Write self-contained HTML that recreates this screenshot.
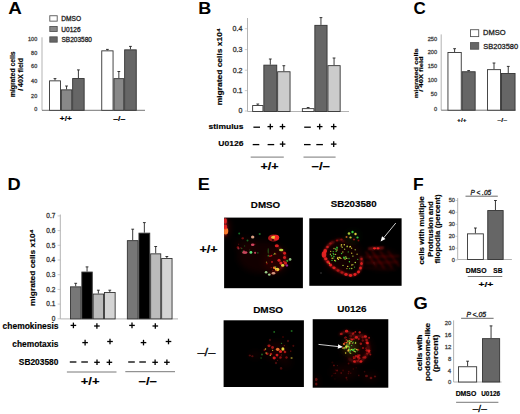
<!DOCTYPE html>
<html><head><meta charset="utf-8"><style>
html,body{margin:0;padding:0;background:#fff;width:520px;height:414px;overflow:hidden}
svg{display:block}
text{font-family:"Liberation Sans", sans-serif}
</style></head><body>
<svg width="520" height="414" viewBox="0 0 520 414">
<rect width="520" height="414" fill="#fff"/>
<text transform="translate(8.13,14.37) scale(1.087,1)" font-size="17.30" font-weight="bold" fill="#000">A</text>
<rect x="49.8" y="15.75" width="7.4" height="5.4" fill="#fff" stroke="#555" stroke-width="0.9"/>
<text transform="translate(61.27,20.57) scale(1.051,1)" font-size="6.30" font-weight="normal" fill="#222" stroke="#222" stroke-width="0.280">DMSO</text>
<rect x="49.8" y="26.45" width="7.4" height="5.0" fill="#888" stroke="#555" stroke-width="0.9"/>
<text transform="translate(61.31,31.52) scale(1.038,1)" font-size="6.30" font-weight="normal" fill="#222" stroke="#222" stroke-width="0.280">U0126</text>
<rect x="49.8" y="36.85" width="7.4" height="5.3" fill="#666" stroke="#555" stroke-width="0.9"/>
<text transform="translate(61.51,42.47) scale(1.034,1)" font-size="6.30" font-weight="normal" fill="#222" stroke="#222" stroke-width="0.280">SB203580</text>
<line x1="42.0" y1="37.3" x2="42.0" y2="110.3" stroke="#aaa" stroke-width="0.9"/>
<line x1="42.0" y1="110.3" x2="145" y2="110.3" stroke="#666" stroke-width="0.9"/>
<text transform="translate(28.05,40.90) scale(1.000,1)" font-size="5.49" font-weight="normal" fill="#444" stroke="#444" stroke-width="0.280">100</text>
<text transform="translate(31.10,54.80) scale(1.000,1)" font-size="5.49" font-weight="normal" fill="#444" stroke="#444" stroke-width="0.280">80</text>
<text transform="translate(31.10,68.40) scale(1.000,1)" font-size="5.49" font-weight="normal" fill="#444" stroke="#444" stroke-width="0.280">60</text>
<text transform="translate(31.10,83.10) scale(1.000,1)" font-size="5.49" font-weight="normal" fill="#444" stroke="#444" stroke-width="0.280">40</text>
<text transform="translate(31.10,97.60) scale(1.000,1)" font-size="5.49" font-weight="normal" fill="#444" stroke="#444" stroke-width="0.280">20</text>
<text transform="translate(34.14,111.30) scale(1.000,1)" font-size="5.49" font-weight="normal" fill="#444" stroke="#444" stroke-width="0.280">0</text>
<line x1="55.0" y1="80.4" x2="55.0" y2="78.6" stroke="#222" stroke-width="0.9"/>
<line x1="53.6" y1="78.6" x2="56.4" y2="78.6" stroke="#222" stroke-width="0.9"/>
<rect x="49.550000000000004" y="80.85000000000001" width="10.9" height="29.45" fill="#fff" stroke="#333" stroke-width="0.9"/>
<line x1="66.55" y1="89.4" x2="66.55" y2="86" stroke="#222" stroke-width="0.9"/>
<line x1="65.14999999999999" y1="86" x2="67.95" y2="86" stroke="#222" stroke-width="0.9"/>
<rect x="61.35" y="89.85000000000001" width="10.4" height="20.45" fill="#888" stroke="#333" stroke-width="0.9"/>
<line x1="78.4" y1="78.1" x2="78.4" y2="69.9" stroke="#222" stroke-width="0.9"/>
<line x1="77.0" y1="69.9" x2="79.80000000000001" y2="69.9" stroke="#222" stroke-width="0.9"/>
<rect x="72.65" y="78.55" width="11.5" height="31.75" fill="#666" stroke="#333" stroke-width="0.9"/>
<line x1="107.4" y1="50.4" x2="107.4" y2="49.4" stroke="#222" stroke-width="0.9"/>
<line x1="106.0" y1="49.4" x2="108.80000000000001" y2="49.4" stroke="#222" stroke-width="0.9"/>
<rect x="101.75" y="50.85" width="11.3" height="59.45" fill="#fff" stroke="#333" stroke-width="0.9"/>
<line x1="118.85" y1="78.2" x2="118.85" y2="71.5" stroke="#222" stroke-width="0.9"/>
<line x1="117.44999999999999" y1="71.5" x2="120.25" y2="71.5" stroke="#222" stroke-width="0.9"/>
<rect x="113.95" y="78.65" width="9.8" height="31.65" fill="#888" stroke="#333" stroke-width="0.9"/>
<line x1="130.45" y1="49.4" x2="130.45" y2="46.4" stroke="#222" stroke-width="0.9"/>
<line x1="129.04999999999998" y1="46.4" x2="131.85" y2="46.4" stroke="#222" stroke-width="0.9"/>
<rect x="124.65" y="49.85" width="11.6" height="60.45" fill="#666" stroke="#333" stroke-width="0.9"/>
<text transform="translate(59.87,121.20) scale(1.207,1)" font-size="6.80" font-weight="bold" fill="#000" stroke="#000" stroke-width="0.150">+/+</text>
<text transform="translate(113.24,121.20) scale(1.272,1)" font-size="6.80" font-weight="bold" fill="#000" stroke="#000" stroke-width="0.150">–/–</text>
<text transform="translate(14.67,97.24) rotate(-90) scale(1.050,1)" font-size="6.50" font-weight="bold" fill="#000" stroke="#000" stroke-width="0.150">migrated cells</text>
<text transform="translate(22.99,90.87) rotate(-90) scale(1.088,1)" font-size="6.50" font-weight="bold" fill="#000" stroke="#000" stroke-width="0.150">/ 40X field</text>
<text transform="translate(198.13,14.17) scale(1.042,1)" font-size="17.30" font-weight="bold" fill="#000">B</text>
<line x1="247.5" y1="18" x2="247.5" y2="111.5" stroke="#aaa" stroke-width="0.9"/>
<line x1="247.5" y1="111.5" x2="349" y2="111.5" stroke="#aaa" stroke-width="0.9"/>
<text transform="translate(232.62,31.13) scale(1.000,1)" font-size="7.04" font-weight="normal" fill="#333" stroke="#333" stroke-width="0.280">0.4</text>
<line x1="244.8" y1="28.7" x2="247.5" y2="28.7" stroke="#aaa" stroke-width="0.6"/>
<text transform="translate(232.69,52.03) scale(1.000,1)" font-size="7.04" font-weight="normal" fill="#333" stroke="#333" stroke-width="0.280">0.3</text>
<line x1="244.8" y1="49.6" x2="247.5" y2="49.6" stroke="#aaa" stroke-width="0.6"/>
<text transform="translate(232.76,72.63) scale(1.000,1)" font-size="7.04" font-weight="normal" fill="#333" stroke="#333" stroke-width="0.280">0.2</text>
<line x1="244.8" y1="70.2" x2="247.5" y2="70.2" stroke="#aaa" stroke-width="0.6"/>
<text transform="translate(232.73,93.03) scale(1.000,1)" font-size="7.04" font-weight="normal" fill="#333" stroke="#333" stroke-width="0.280">0.1</text>
<line x1="244.8" y1="90.6" x2="247.5" y2="90.6" stroke="#aaa" stroke-width="0.6"/>
<text transform="translate(238.54,113.43) scale(1.000,1)" font-size="7.04" font-weight="normal" fill="#333" stroke="#333" stroke-width="0.280">0</text>
<line x1="244.8" y1="111" x2="247.5" y2="111" stroke="#aaa" stroke-width="0.6"/>
<line x1="257.79999999999995" y1="105.1" x2="257.79999999999995" y2="104" stroke="#222" stroke-width="0.9"/>
<line x1="256.4" y1="104" x2="259.19999999999993" y2="104" stroke="#222" stroke-width="0.9"/>
<rect x="252.64999999999998" y="105.55" width="10.3" height="5.95" fill="#fff" stroke="#333" stroke-width="0.9"/>
<line x1="270.29999999999995" y1="64.7" x2="270.29999999999995" y2="59" stroke="#222" stroke-width="0.9"/>
<line x1="268.9" y1="59" x2="271.69999999999993" y2="59" stroke="#222" stroke-width="0.9"/>
<rect x="263.84999999999997" y="65.15" width="12.9" height="46.35" fill="#666" stroke="#333" stroke-width="0.9"/>
<line x1="283.85" y1="71.3" x2="283.85" y2="65.7" stroke="#222" stroke-width="0.9"/>
<line x1="282.45000000000005" y1="65.7" x2="285.25" y2="65.7" stroke="#222" stroke-width="0.9"/>
<rect x="277.65" y="71.75" width="12.4" height="39.75" fill="#ccc" stroke="#333" stroke-width="0.9"/>
<line x1="308.15" y1="108.2" x2="308.15" y2="107.5" stroke="#222" stroke-width="0.9"/>
<line x1="306.75" y1="107.5" x2="309.54999999999995" y2="107.5" stroke="#222" stroke-width="0.9"/>
<rect x="302.34999999999997" y="108.65" width="11.6" height="2.85" fill="#fff" stroke="#333" stroke-width="0.9"/>
<line x1="320.95" y1="24.9" x2="320.95" y2="17.6" stroke="#222" stroke-width="0.9"/>
<line x1="319.55" y1="17.6" x2="322.34999999999997" y2="17.6" stroke="#222" stroke-width="0.9"/>
<rect x="314.84999999999997" y="25.349999999999998" width="12.2" height="86.15" fill="#666" stroke="#333" stroke-width="0.9"/>
<line x1="334.05" y1="65.2" x2="334.05" y2="58" stroke="#222" stroke-width="0.9"/>
<line x1="332.65000000000003" y1="58" x2="335.45" y2="58" stroke="#222" stroke-width="0.9"/>
<rect x="327.95" y="65.65" width="12.2" height="45.85" fill="#ccc" stroke="#333" stroke-width="0.9"/>
<text transform="translate(222.26,105.35) rotate(-90) scale(1.057,1)" font-size="8.00" font-weight="bold" fill="#000" stroke="#000" stroke-width="0.150">migrated cells x10⁴</text>
<text transform="translate(208.60,129.26) scale(1.059,1)" font-size="8.00" font-weight="bold" fill="#000" stroke="#000" stroke-width="0.150">stimulus</text>
<text transform="translate(218.29,146.26) scale(1.066,1)" font-size="8.00" font-weight="bold" fill="#000" stroke="#000" stroke-width="0.150">U0126</text>
<line x1="253.39999999999998" y1="127.2" x2="260.0" y2="127.2" stroke="#000" stroke-width="1.3"/>
<line x1="304.2" y1="127.2" x2="310.8" y2="127.2" stroke="#000" stroke-width="1.3"/>
<line x1="267.5" y1="126.6" x2="273.1" y2="126.6" stroke="#000" stroke-width="1.3"/>
<line x1="270.3" y1="123.8" x2="270.3" y2="129.4" stroke="#000" stroke-width="1.3"/>
<line x1="279.7" y1="126.6" x2="285.3" y2="126.6" stroke="#000" stroke-width="1.3"/>
<line x1="282.5" y1="123.8" x2="282.5" y2="129.4" stroke="#000" stroke-width="1.3"/>
<line x1="316.9" y1="126.6" x2="322.5" y2="126.6" stroke="#000" stroke-width="1.3"/>
<line x1="319.7" y1="123.8" x2="319.7" y2="129.4" stroke="#000" stroke-width="1.3"/>
<line x1="330.9" y1="126.6" x2="336.5" y2="126.6" stroke="#000" stroke-width="1.3"/>
<line x1="333.7" y1="123.8" x2="333.7" y2="129.4" stroke="#000" stroke-width="1.3"/>
<line x1="252.7" y1="144.6" x2="259.3" y2="144.6" stroke="#000" stroke-width="1.3"/>
<line x1="267.59999999999997" y1="144.6" x2="274.2" y2="144.6" stroke="#000" stroke-width="1.3"/>
<line x1="304.0" y1="144.6" x2="310.6" y2="144.6" stroke="#000" stroke-width="1.3"/>
<line x1="316.3" y1="144.6" x2="322.90000000000003" y2="144.6" stroke="#000" stroke-width="1.3"/>
<line x1="279.8" y1="144.1" x2="285.40000000000003" y2="144.1" stroke="#000" stroke-width="1.3"/>
<line x1="282.6" y1="141.29999999999998" x2="282.6" y2="146.9" stroke="#000" stroke-width="1.3"/>
<line x1="330.9" y1="144.1" x2="336.5" y2="144.1" stroke="#000" stroke-width="1.3"/>
<line x1="333.7" y1="141.29999999999998" x2="333.7" y2="146.9" stroke="#000" stroke-width="1.3"/>
<line x1="250.7" y1="157.1" x2="283.8" y2="157.1" stroke="#555" stroke-width="0.8"/>
<line x1="303.5" y1="157.1" x2="335.6" y2="157.1" stroke="#555" stroke-width="0.8"/>
<text transform="translate(260.40,169.93) scale(1.115,1)" font-size="11.30" font-weight="bold" fill="#000" stroke="#000" stroke-width="0.150">+/+</text>
<text transform="translate(311.50,169.93) scale(1.178,1)" font-size="11.30" font-weight="bold" fill="#000" stroke="#000" stroke-width="0.150">–/–</text>
<text transform="translate(413.52,13.92) scale(0.980,1)" font-size="17.30" font-weight="bold" fill="#000">C</text>
<rect x="470.5" y="29.7" width="8.2" height="6.9" fill="#fff" stroke="#555" stroke-width="0.9"/>
<rect x="470.5" y="42.6" width="8.2" height="6.6" fill="#666" stroke="#555" stroke-width="0.9"/>
<text transform="translate(483.10,35.12) scale(1.075,1)" font-size="7.00" font-weight="normal" fill="#222" stroke="#222" stroke-width="0.280">DMSO</text>
<text transform="translate(483.36,48.96) scale(1.064,1)" font-size="7.00" font-weight="normal" fill="#222" stroke="#222" stroke-width="0.280">SB203580</text>
<line x1="441.2" y1="34.4" x2="441.2" y2="110.2" stroke="#aaa" stroke-width="0.9"/>
<line x1="441.2" y1="110.2" x2="515.5" y2="110.2" stroke="#666" stroke-width="0.9"/>
<text transform="translate(427.72,40.74) scale(1.000,1)" font-size="5.63" font-weight="normal" fill="#444" stroke="#444" stroke-width="0.280">250</text>
<text transform="translate(427.72,53.84) scale(1.000,1)" font-size="5.63" font-weight="normal" fill="#444" stroke="#444" stroke-width="0.280">200</text>
<text transform="translate(427.72,67.84) scale(1.000,1)" font-size="5.63" font-weight="normal" fill="#444" stroke="#444" stroke-width="0.280">150</text>
<text transform="translate(427.72,82.14) scale(1.000,1)" font-size="5.63" font-weight="normal" fill="#444" stroke="#444" stroke-width="0.280">100</text>
<text transform="translate(430.84,96.14) scale(1.000,1)" font-size="5.63" font-weight="normal" fill="#444" stroke="#444" stroke-width="0.280">50</text>
<text transform="translate(433.97,111.14) scale(1.000,1)" font-size="5.63" font-weight="normal" fill="#444" stroke="#444" stroke-width="0.280">0</text>
<line x1="454.6" y1="52" x2="454.6" y2="48.7" stroke="#222" stroke-width="0.9"/>
<line x1="453.20000000000005" y1="48.7" x2="456.0" y2="48.7" stroke="#222" stroke-width="0.9"/>
<rect x="447.95" y="52.45" width="13.3" height="57.75" fill="#fff" stroke="#333" stroke-width="0.9"/>
<line x1="468.65" y1="71.3" x2="468.65" y2="70.6" stroke="#222" stroke-width="0.9"/>
<line x1="467.25" y1="70.6" x2="470.04999999999995" y2="70.6" stroke="#222" stroke-width="0.9"/>
<rect x="462.15" y="71.75" width="13.0" height="38.45" fill="#666" stroke="#333" stroke-width="0.9"/>
<line x1="494.0" y1="69.2" x2="494.0" y2="63" stroke="#222" stroke-width="0.9"/>
<line x1="492.6" y1="63" x2="495.4" y2="63" stroke="#222" stroke-width="0.9"/>
<rect x="487.45" y="69.65" width="13.1" height="40.55" fill="#fff" stroke="#333" stroke-width="0.9"/>
<line x1="508.25" y1="73" x2="508.25" y2="66.4" stroke="#222" stroke-width="0.9"/>
<line x1="506.85" y1="66.4" x2="509.65" y2="66.4" stroke="#222" stroke-width="0.9"/>
<rect x="501.45" y="73.45" width="13.6" height="36.75" fill="#666" stroke="#333" stroke-width="0.9"/>
<text transform="translate(457.04,121.52) scale(1.099,1)" font-size="6.00" font-weight="bold" fill="#000" stroke="#000" stroke-width="0.150">+/+</text>
<text transform="translate(497.29,121.52) scale(1.178,1)" font-size="6.00" font-weight="bold" fill="#000" stroke="#000" stroke-width="0.150">–/–</text>
<text transform="translate(417.79,98.28) rotate(-90) scale(1.330,1)" font-size="5.60" font-weight="bold" fill="#000" stroke="#000" stroke-width="0.150">migrated cells</text>
<text transform="translate(423.32,91.68) rotate(-90) scale(1.356,1)" font-size="5.60" font-weight="bold" fill="#000" stroke="#000" stroke-width="0.150">/ 40X field</text>
<text transform="translate(7.52,190.32) scale(1.053,1)" font-size="17.30" font-weight="bold" fill="#000">D</text>
<line x1="60.3" y1="214.5" x2="60.3" y2="318.9" stroke="#aaa" stroke-width="0.9"/>
<line x1="60.3" y1="318.9" x2="178" y2="318.9" stroke="#aaa" stroke-width="0.9"/>
<text transform="translate(46.32,218.14) scale(1.000,1)" font-size="6.48" font-weight="normal" fill="#333" stroke="#333" stroke-width="0.280">0.7</text>
<line x1="57.6" y1="215.9" x2="60.3" y2="215.9" stroke="#aaa" stroke-width="0.6"/>
<text transform="translate(46.25,232.84) scale(1.000,1)" font-size="6.48" font-weight="normal" fill="#333" stroke="#333" stroke-width="0.280">0.6</text>
<line x1="57.6" y1="230.6" x2="60.3" y2="230.6" stroke="#aaa" stroke-width="0.6"/>
<text transform="translate(46.25,247.54) scale(1.000,1)" font-size="6.48" font-weight="normal" fill="#333" stroke="#333" stroke-width="0.280">0.5</text>
<line x1="57.6" y1="245.3" x2="60.3" y2="245.3" stroke="#aaa" stroke-width="0.6"/>
<text transform="translate(46.19,262.24) scale(1.000,1)" font-size="6.48" font-weight="normal" fill="#333" stroke="#333" stroke-width="0.280">0.4</text>
<line x1="57.6" y1="260.0" x2="60.3" y2="260.0" stroke="#aaa" stroke-width="0.6"/>
<text transform="translate(46.25,276.94) scale(1.000,1)" font-size="6.48" font-weight="normal" fill="#333" stroke="#333" stroke-width="0.280">0.3</text>
<line x1="57.6" y1="274.7" x2="60.3" y2="274.7" stroke="#aaa" stroke-width="0.6"/>
<text transform="translate(46.32,291.64) scale(1.000,1)" font-size="6.48" font-weight="normal" fill="#333" stroke="#333" stroke-width="0.280">0.2</text>
<line x1="57.6" y1="289.4" x2="60.3" y2="289.4" stroke="#aaa" stroke-width="0.6"/>
<text transform="translate(46.29,306.34) scale(1.000,1)" font-size="6.48" font-weight="normal" fill="#333" stroke="#333" stroke-width="0.280">0.1</text>
<line x1="57.6" y1="304.1" x2="60.3" y2="304.1" stroke="#aaa" stroke-width="0.6"/>
<text transform="translate(51.63,321.04) scale(1.000,1)" font-size="6.48" font-weight="normal" fill="#333" stroke="#333" stroke-width="0.280">0</text>
<line x1="57.6" y1="318.8" x2="60.3" y2="318.8" stroke="#aaa" stroke-width="0.6"/>
<line x1="75.7" y1="286.4" x2="75.7" y2="283.3" stroke="#222" stroke-width="0.9"/>
<line x1="74.3" y1="283.3" x2="77.10000000000001" y2="283.3" stroke="#222" stroke-width="0.9"/>
<rect x="70.45" y="286.84999999999997" width="10.5" height="32.05" fill="#777" stroke="#333" stroke-width="0.9"/>
<line x1="87.05000000000001" y1="271.6" x2="87.05000000000001" y2="266.9" stroke="#222" stroke-width="0.9"/>
<line x1="85.65" y1="266.9" x2="88.45000000000002" y2="266.9" stroke="#222" stroke-width="0.9"/>
<rect x="81.85000000000001" y="272.05" width="10.4" height="46.85" fill="#000" stroke="#333" stroke-width="0.9"/>
<line x1="98.35" y1="293.6" x2="98.35" y2="290.2" stroke="#222" stroke-width="0.9"/>
<line x1="96.94999999999999" y1="290.2" x2="99.75" y2="290.2" stroke="#222" stroke-width="0.9"/>
<rect x="93.15" y="294.05" width="10.4" height="24.85" fill="#bbb" stroke="#333" stroke-width="0.9"/>
<line x1="109.8" y1="292" x2="109.8" y2="290.2" stroke="#222" stroke-width="0.9"/>
<line x1="108.39999999999999" y1="290.2" x2="111.2" y2="290.2" stroke="#222" stroke-width="0.9"/>
<rect x="104.45" y="292.45" width="10.7" height="26.45" fill="#d4d4d4" stroke="#333" stroke-width="0.9"/>
<line x1="132.7" y1="240.2" x2="132.7" y2="229.2" stroke="#222" stroke-width="0.9"/>
<line x1="131.29999999999998" y1="229.2" x2="134.1" y2="229.2" stroke="#222" stroke-width="0.9"/>
<rect x="127.35000000000001" y="240.64999999999998" width="10.7" height="78.25" fill="#777" stroke="#333" stroke-width="0.9"/>
<line x1="144.35" y1="232.7" x2="144.35" y2="222.6" stroke="#222" stroke-width="0.9"/>
<line x1="142.95" y1="222.6" x2="145.75" y2="222.6" stroke="#222" stroke-width="0.9"/>
<rect x="138.95" y="233.14999999999998" width="10.8" height="85.75" fill="#000" stroke="#333" stroke-width="0.9"/>
<line x1="155.7" y1="253.4" x2="155.7" y2="246.5" stroke="#222" stroke-width="0.9"/>
<line x1="154.29999999999998" y1="246.5" x2="157.1" y2="246.5" stroke="#222" stroke-width="0.9"/>
<rect x="150.64999999999998" y="253.85" width="10.1" height="65.05" fill="#bbb" stroke="#333" stroke-width="0.9"/>
<line x1="166.85" y1="258.1" x2="166.85" y2="256.5" stroke="#222" stroke-width="0.9"/>
<line x1="165.45" y1="256.5" x2="168.25" y2="256.5" stroke="#222" stroke-width="0.9"/>
<rect x="161.64999999999998" y="258.55" width="10.4" height="60.35" fill="#d4d4d4" stroke="#333" stroke-width="0.9"/>
<text transform="translate(35.31,305.94) rotate(-90) scale(1.101,1)" font-size="7.60" font-weight="bold" fill="#000" stroke="#000" stroke-width="0.150">migrated cells x10⁴</text>
<text transform="translate(2.56,329.12) scale(1.021,1)" font-size="8.30" font-weight="bold" fill="#000" stroke="#000" stroke-width="0.150">chemokinesis</text>
<text transform="translate(12.36,346.67) scale(1.009,1)" font-size="8.30" font-weight="bold" fill="#000" stroke="#000" stroke-width="0.150">chemotaxis</text>
<text transform="translate(18.85,364.96) scale(1.009,1)" font-size="8.30" font-weight="bold" fill="#000" stroke="#000" stroke-width="0.150">SB203580</text>
<line x1="70.60000000000001" y1="325.4" x2="76.2" y2="325.4" stroke="#000" stroke-width="1.3"/>
<line x1="73.4" y1="322.59999999999997" x2="73.4" y2="328.2" stroke="#000" stroke-width="1.3"/>
<line x1="94.10000000000001" y1="326" x2="99.7" y2="326" stroke="#000" stroke-width="1.3"/>
<line x1="96.9" y1="323.2" x2="96.9" y2="328.8" stroke="#000" stroke-width="1.3"/>
<line x1="129.2" y1="325.4" x2="134.8" y2="325.4" stroke="#000" stroke-width="1.3"/>
<line x1="132" y1="322.59999999999997" x2="132" y2="328.2" stroke="#000" stroke-width="1.3"/>
<line x1="152.5" y1="326" x2="158.10000000000002" y2="326" stroke="#000" stroke-width="1.3"/>
<line x1="155.3" y1="323.2" x2="155.3" y2="328.8" stroke="#000" stroke-width="1.3"/>
<line x1="82.3" y1="342.6" x2="87.89999999999999" y2="342.6" stroke="#000" stroke-width="1.3"/>
<line x1="85.1" y1="339.8" x2="85.1" y2="345.40000000000003" stroke="#000" stroke-width="1.3"/>
<line x1="107.2" y1="341.5" x2="112.8" y2="341.5" stroke="#000" stroke-width="1.3"/>
<line x1="110" y1="338.7" x2="110" y2="344.3" stroke="#000" stroke-width="1.3"/>
<line x1="140.7" y1="342.6" x2="146.3" y2="342.6" stroke="#000" stroke-width="1.3"/>
<line x1="143.5" y1="339.8" x2="143.5" y2="345.40000000000003" stroke="#000" stroke-width="1.3"/>
<line x1="165.7" y1="341.5" x2="171.3" y2="341.5" stroke="#000" stroke-width="1.3"/>
<line x1="168.5" y1="338.7" x2="168.5" y2="344.3" stroke="#000" stroke-width="1.3"/>
<line x1="69.8" y1="362" x2="76.39999999999999" y2="362" stroke="#000" stroke-width="1.3"/>
<line x1="81.3" y1="362" x2="87.89999999999999" y2="362" stroke="#000" stroke-width="1.3"/>
<line x1="128.2" y1="362" x2="134.8" y2="362" stroke="#000" stroke-width="1.3"/>
<line x1="139.29999999999998" y1="362" x2="145.9" y2="362" stroke="#000" stroke-width="1.3"/>
<line x1="94.2" y1="362.3" x2="99.8" y2="362.3" stroke="#000" stroke-width="1.3"/>
<line x1="97" y1="359.5" x2="97" y2="365.1" stroke="#000" stroke-width="1.3"/>
<line x1="106.60000000000001" y1="362.3" x2="112.2" y2="362.3" stroke="#000" stroke-width="1.3"/>
<line x1="109.4" y1="359.5" x2="109.4" y2="365.1" stroke="#000" stroke-width="1.3"/>
<line x1="152.29999999999998" y1="362.3" x2="157.9" y2="362.3" stroke="#000" stroke-width="1.3"/>
<line x1="155.1" y1="359.5" x2="155.1" y2="365.1" stroke="#000" stroke-width="1.3"/>
<line x1="164.1" y1="362.3" x2="169.70000000000002" y2="362.3" stroke="#000" stroke-width="1.3"/>
<line x1="166.9" y1="359.5" x2="166.9" y2="365.1" stroke="#000" stroke-width="1.3"/>
<line x1="66.9" y1="372" x2="116.5" y2="372" stroke="#555" stroke-width="0.8"/>
<line x1="125.3" y1="371.7" x2="175" y2="371.7" stroke="#555" stroke-width="0.8"/>
<text transform="translate(80.68,385.28) scale(1.154,1)" font-size="11.30" font-weight="bold" fill="#000" stroke="#000" stroke-width="0.150">+/+</text>
<text transform="translate(138.61,385.28) scale(1.164,1)" font-size="11.30" font-weight="bold" fill="#000" stroke="#000" stroke-width="0.150">–/–</text>
<text transform="translate(197.73,190.47) scale(1.044,1)" font-size="17.30" font-weight="bold" fill="#000">E</text>
<text transform="translate(250.86,208.48) scale(1.031,1)" font-size="9.50" font-weight="bold" fill="#000" stroke="#000" stroke-width="0.150">DMSO</text>
<text transform="translate(330.71,206.73) scale(1.024,1)" font-size="9.50" font-weight="bold" fill="#000" stroke="#000" stroke-width="0.150">SB203580</text>
<text transform="translate(253.15,312.73) scale(1.053,1)" font-size="9.50" font-weight="bold" fill="#000" stroke="#000" stroke-width="0.150">DMSO</text>
<text transform="translate(337.20,311.63) scale(1.049,1)" font-size="9.50" font-weight="bold" fill="#000" stroke="#000" stroke-width="0.150">U0126</text>
<text transform="translate(199.39,253.43) scale(1.128,1)" font-size="11.30" font-weight="bold" fill="#000" stroke="#000" stroke-width="0.150">+/+</text>
<text transform="translate(197.40,356.31) scale(1.192,1)" font-size="10.80" font-weight="normal" fill="#000" stroke="#000" stroke-width="0.280">–/–</text>
<rect x="224.1" y="217.6" width="78.8" height="70.6" fill="#000"/>
<rect x="309.3" y="218.3" width="92.3" height="67.5" fill="#000"/>
<rect x="223.6" y="320.3" width="80.3" height="66.7" fill="#000"/>
<rect x="312.7" y="319.2" width="75.6" height="68.5" fill="#000"/>
<defs>
<filter id="bh" x="-20%" y="-20%" width="140%" height="140%"><feGaussianBlur stdDeviation="3"/></filter>
<filter id="bs" x="-20%" y="-20%" width="140%" height="140%"><feGaussianBlur stdDeviation="1.0"/></filter>
<filter id="bd" x="-20%" y="-20%" width="140%" height="140%"><feGaussianBlur stdDeviation="0.45"/></filter>
<clipPath id="c0"><rect x="224.1" y="217.6" width="78.80" height="70.60"/></clipPath>
<clipPath id="c1"><rect x="309.3" y="218.3" width="92.30" height="67.50"/></clipPath>
<clipPath id="c2"><rect x="223.6" y="320.3" width="80.30" height="66.70"/></clipPath>
<clipPath id="c3"><rect x="312.7" y="319.2" width="75.60" height="68.50"/></clipPath>
</defs>
<g clip-path="url(#c0)">
<g filter="url(#bh)">
<ellipse cx="262" cy="257" rx="24" ry="16" fill="#701010" fill-opacity="0.16"/>
<ellipse cx="276" cy="262" rx="12" ry="12" fill="#c01818" fill-opacity="0.11"/>
<ellipse cx="245" cy="245" rx="10" ry="7" fill="#701010" fill-opacity="0.14"/>
<ellipse cx="226" cy="228" rx="3" ry="9" fill="#ee2222" fill-opacity="0.23"/>
</g><g filter="url(#bs)" fill="none" stroke-linecap="round" stroke-linejoin="round">
<polyline points="225.2,218.5 225.5,224.0 225.8,230.0 225.4,235.5" stroke="#ee2222" stroke-width="2.21" stroke-opacity="0.55"/>
<polyline points="225.0,219.0 225.3,223.0" stroke="#f05070" stroke-width="2.04" stroke-opacity="0.52"/>
<polyline points="276.8,245.5 280.5,249.5 284.3,253.0 285.5,257.5 285.0,262.0 283.0,266.0 279.0,269.5 274.5,272.3 270.0,273.8" stroke="#c01818" stroke-width="1.70" stroke-opacity="0.52"/>
</g><g filter="url(#bd)">
<ellipse cx="225.6" cy="231.0" rx="2.64" ry="3.60" fill="#ff8030" fill-opacity="0.95"/>
<ellipse cx="225.3" cy="227.0" rx="1.92" ry="2.40" fill="#ee2222" fill-opacity="0.90"/>
<ellipse cx="225.2" cy="221.0" rx="1.80" ry="2.64" fill="#ee2222" fill-opacity="0.80"/>
<ellipse cx="273.5" cy="238.0" rx="5.52" ry="3.60" fill="#ee2222" fill-opacity="0.70"/>
<ellipse cx="276.0" cy="237.5" rx="3.12" ry="2.64" fill="#ee2222" fill-opacity="0.95"/>
<ellipse cx="252.7" cy="237.0" rx="1.68" ry="1.56" fill="#f0b090" fill-opacity="0.90"/>
<ellipse cx="252.7" cy="244.8" rx="1.80" ry="1.20" fill="#f05070" fill-opacity="0.85"/>
<ellipse cx="239.2" cy="233.5" rx="0.96" ry="0.96" fill="#208a30" fill-opacity="0.80"/>
<ellipse cx="259.7" cy="234.0" rx="1.08" ry="1.08" fill="#208a30" fill-opacity="0.80"/>
<ellipse cx="247.5" cy="240.5" rx="0.96" ry="0.96" fill="#208a30" fill-opacity="0.80"/>
<ellipse cx="242.7" cy="238.3" rx="1.32" ry="1.08" fill="#c01818" fill-opacity="0.60"/>
<ellipse cx="237.9" cy="247.4" rx="1.32" ry="1.08" fill="#c01818" fill-opacity="0.60"/>
<ellipse cx="273.3" cy="237.2" rx="2.16" ry="1.56" fill="#f0e040" fill-opacity="0.85"/>
<ellipse cx="277.0" cy="237.6" rx="2.16" ry="2.16" fill="#ee2222" fill-opacity="1.00"/>
<ellipse cx="272.8" cy="240.0" rx="1.20" ry="0.96" fill="#000" fill-opacity="0.70"/>
<ellipse cx="276.8" cy="245.8" rx="2.04" ry="1.56" fill="#ee2222" fill-opacity="0.90"/>
<ellipse cx="281.2" cy="250.0" rx="2.16" ry="1.20" fill="#b8e040" fill-opacity="0.95"/>
<ellipse cx="284.6" cy="253.2" rx="1.44" ry="1.44" fill="#ee2222" fill-opacity="0.85"/>
<ellipse cx="279.0" cy="260.3" rx="1.56" ry="1.56" fill="#ee2222" fill-opacity="0.85"/>
<ellipse cx="284.5" cy="257.5" rx="1.56" ry="1.56" fill="#ee2222" fill-opacity="0.80"/>
<ellipse cx="280.9" cy="263.1" rx="1.56" ry="1.56" fill="#ee2222" fill-opacity="0.90"/>
<ellipse cx="285.5" cy="263.1" rx="1.56" ry="1.56" fill="#ee2222" fill-opacity="0.85"/>
<ellipse cx="282.7" cy="265.4" rx="1.68" ry="1.44" fill="#f0e040" fill-opacity="0.95"/>
<ellipse cx="286.9" cy="265.4" rx="1.20" ry="1.20" fill="#c030b0" fill-opacity="0.80"/>
<ellipse cx="277.2" cy="269.5" rx="2.16" ry="1.80" fill="#f0e040" fill-opacity="0.95"/>
<ellipse cx="274.4" cy="267.7" rx="1.56" ry="1.32" fill="#ff8030" fill-opacity="0.90"/>
<ellipse cx="273.5" cy="273.2" rx="1.80" ry="1.32" fill="#f0b090" fill-opacity="0.85"/>
<ellipse cx="266.1" cy="272.3" rx="1.32" ry="1.20" fill="#b0f0a0" fill-opacity="0.85"/>
<ellipse cx="269.3" cy="274.6" rx="1.32" ry="1.20" fill="#b0f0a0" fill-opacity="0.85"/>
<ellipse cx="290.1" cy="259.4" rx="1.32" ry="1.32" fill="#b0f0a0" fill-opacity="0.80"/>
<ellipse cx="287.3" cy="260.8" rx="1.08" ry="1.08" fill="#40e040" fill-opacity="0.70"/>
<ellipse cx="244.8" cy="252.6" rx="2.76" ry="1.32" fill="#f05070" fill-opacity="0.85"/>
<ellipse cx="250.9" cy="252.4" rx="1.44" ry="1.44" fill="#60f080" fill-opacity="0.95"/>
<ellipse cx="255.1" cy="252.8" rx="1.08" ry="1.08" fill="#f05070" fill-opacity="0.80"/>
<ellipse cx="238.5" cy="248.5" rx="1.08" ry="1.08" fill="#f05070" fill-opacity="0.50"/>
<ellipse cx="268.4" cy="255.7" rx="0.84" ry="0.84" fill="#40e040" fill-opacity="0.50"/>
<ellipse cx="268.2" cy="251.0" rx="0.60" ry="3.00" fill="#40e040" fill-opacity="0.40"/>
<ellipse cx="271.5" cy="255.7" rx="0.83" ry="0.83" fill="#ee2222" fill-opacity="0.83"/>
<ellipse cx="266.9" cy="263.5" rx="0.93" ry="0.93" fill="#c01818" fill-opacity="0.51"/>
<ellipse cx="273.7" cy="254.3" rx="0.63" ry="0.63" fill="#40e040" fill-opacity="0.52"/>
<ellipse cx="276.3" cy="270.1" rx="0.83" ry="0.83" fill="#ee2222" fill-opacity="0.73"/>
<ellipse cx="272.9" cy="270.6" rx="0.62" ry="0.62" fill="#c01818" fill-opacity="0.62"/>
<ellipse cx="271.2" cy="267.7" rx="0.67" ry="0.67" fill="#c01818" fill-opacity="0.65"/>
<ellipse cx="276.0" cy="254.1" rx="0.62" ry="0.62" fill="#c01818" fill-opacity="0.70"/>
<ellipse cx="275.6" cy="267.0" rx="0.77" ry="0.77" fill="#40e040" fill-opacity="0.64"/>
<ellipse cx="270.0" cy="256.2" rx="0.88" ry="0.88" fill="#ee2222" fill-opacity="0.73"/>
<ellipse cx="275.5" cy="268.8" rx="0.86" ry="0.86" fill="#f0e040" fill-opacity="0.74"/>
<ellipse cx="266.5" cy="262.2" rx="0.66" ry="0.66" fill="#f0e040" fill-opacity="0.56"/>
<ellipse cx="274.8" cy="253.7" rx="0.84" ry="0.84" fill="#f0e040" fill-opacity="0.64"/>
<ellipse cx="272.0" cy="261.9" rx="0.89" ry="0.89" fill="#ee2222" fill-opacity="0.84"/>
<ellipse cx="283.9" cy="261.5" rx="0.84" ry="0.84" fill="#ee2222" fill-opacity="0.79"/>
<ellipse cx="242.4" cy="251.4" rx="0.85" ry="0.85" fill="#208a30" fill-opacity="0.39"/>
<ellipse cx="244.3" cy="253.0" rx="0.61" ry="0.61" fill="#208a30" fill-opacity="0.41"/>
<ellipse cx="249.7" cy="249.9" rx="0.68" ry="0.68" fill="#208a30" fill-opacity="0.34"/>
<ellipse cx="240.9" cy="248.0" rx="0.91" ry="0.91" fill="#c01818" fill-opacity="0.35"/>
<ellipse cx="244.6" cy="246.0" rx="0.65" ry="0.65" fill="#208a30" fill-opacity="0.56"/>
<ellipse cx="241.7" cy="248.5" rx="0.73" ry="0.73" fill="#208a30" fill-opacity="0.59"/>
<ellipse cx="238.6" cy="244.2" rx="0.68" ry="0.68" fill="#c01818" fill-opacity="0.30"/>
<ellipse cx="254.9" cy="244.3" rx="0.70" ry="0.70" fill="#c01818" fill-opacity="0.43"/>
<ellipse cx="243.9" cy="251.2" rx="0.94" ry="0.94" fill="#f05070" fill-opacity="0.56"/>
<ellipse cx="257.8" cy="252.8" rx="0.87" ry="0.87" fill="#208a30" fill-opacity="0.57"/>
</g></g>
<g clip-path="url(#c1)">
<g filter="url(#bh)">
<ellipse cx="343" cy="257" rx="19" ry="18" fill="#701010" fill-opacity="0.16"/>
<ellipse cx="382" cy="260" rx="17" ry="10" fill="#701010" fill-opacity="0.16"/>
<ellipse cx="353" cy="236" rx="7" ry="5" fill="#208a30" fill-opacity="0.11"/>
</g><g filter="url(#bs)" fill="none" stroke-linecap="round" stroke-linejoin="round">
<polyline points="333.0,242.0 330.0,244.0 327.5,246.5 325.0,250.5 324.0,254.5 325.0,258.8 327.8,262.5 331.2,266.0 335.5,269.0 340.5,271.8 345.5,274.0 350.5,275.3 355.5,274.5 359.2,271.5 361.2,267.0 361.8,262.0 361.2,257.5" stroke="#ee2222" stroke-width="2.21" stroke-opacity="0.59"/>
<polyline points="336.0,240.5 340.0,239.5 344.0,241.5" stroke="#c01818" stroke-width="1.53" stroke-opacity="0.52"/>
<polyline points="369.0,248.8 373.0,248.3 378.0,248.2 383.0,247.8" stroke="#ee2222" stroke-width="1.87" stroke-opacity="0.62"/>
<polyline points="366.0,252.0 376.0,266.0" stroke="#c01818" stroke-width="1.19" stroke-opacity="0.49"/>
<polyline points="372.0,251.0 384.0,268.0" stroke="#c01818" stroke-width="1.19" stroke-opacity="0.49"/>
<polyline points="380.0,251.0 392.0,268.0" stroke="#c01818" stroke-width="1.10" stroke-opacity="0.42"/>
<polyline points="388.0,251.0 399.0,266.0" stroke="#c01818" stroke-width="1.10" stroke-opacity="0.39"/>
<polyline points="365.0,257.0 399.0,256.0" stroke="#c01818" stroke-width="1.02" stroke-opacity="0.39"/>
<polyline points="366.0,263.0 398.0,262.0" stroke="#c01818" stroke-width="1.02" stroke-opacity="0.36"/>
<polyline points="364.0,268.0 396.0,270.0" stroke="#701010" stroke-width="0.85" stroke-opacity="0.33"/>
</g><g filter="url(#bd)">
<ellipse cx="324.0" cy="254.5" rx="2.30" ry="3.20" fill="#ee2222" fill-opacity="0.90"/>
<ellipse cx="330.4" cy="243.5" rx="1.20" ry="1.00" fill="#c01818" fill-opacity="0.60"/>
<ellipse cx="327.5" cy="247.0" rx="1.30" ry="1.30" fill="#ee2222" fill-opacity="0.75"/>
<ellipse cx="325.2" cy="251.0" rx="1.90" ry="1.90" fill="#ee2222" fill-opacity="0.95"/>
<ellipse cx="325.8" cy="258.8" rx="1.70" ry="1.50" fill="#ee2222" fill-opacity="0.90"/>
<ellipse cx="328.0" cy="262.0" rx="1.60" ry="1.40" fill="#ee2222" fill-opacity="0.90"/>
<ellipse cx="330.5" cy="265.0" rx="1.60" ry="1.40" fill="#ee2222" fill-opacity="0.90"/>
<ellipse cx="334.0" cy="267.8" rx="1.60" ry="1.40" fill="#ee2222" fill-opacity="0.85"/>
<ellipse cx="338.0" cy="270.5" rx="1.50" ry="1.30" fill="#c01818" fill-opacity="0.80"/>
<ellipse cx="342.0" cy="272.5" rx="1.50" ry="1.30" fill="#c01818" fill-opacity="0.80"/>
<ellipse cx="346.0" cy="274.5" rx="1.70" ry="1.40" fill="#ee2222" fill-opacity="0.90"/>
<ellipse cx="350.5" cy="275.5" rx="1.70" ry="1.40" fill="#ee2222" fill-opacity="0.95"/>
<ellipse cx="355.0" cy="274.5" rx="1.60" ry="1.40" fill="#ee2222" fill-opacity="0.90"/>
<ellipse cx="358.5" cy="272.0" rx="1.50" ry="1.40" fill="#ee2222" fill-opacity="0.90"/>
<ellipse cx="360.5" cy="268.0" rx="1.40" ry="1.50" fill="#ee2222" fill-opacity="0.90"/>
<ellipse cx="361.5" cy="263.5" rx="1.30" ry="1.50" fill="#ee2222" fill-opacity="0.85"/>
<ellipse cx="361.5" cy="259.0" rx="1.20" ry="1.30" fill="#c01818" fill-opacity="0.80"/>
<ellipse cx="337.0" cy="240.5" rx="1.30" ry="1.00" fill="#c01818" fill-opacity="0.60"/>
<ellipse cx="341.5" cy="239.5" rx="1.20" ry="1.00" fill="#c01818" fill-opacity="0.55"/>
<ellipse cx="349.0" cy="233.5" rx="1.30" ry="1.20" fill="#b8e040" fill-opacity="0.90"/>
<ellipse cx="352.5" cy="232.0" rx="1.20" ry="1.20" fill="#40e040" fill-opacity="0.90"/>
<ellipse cx="355.5" cy="234.0" rx="1.20" ry="1.20" fill="#f0e040" fill-opacity="0.90"/>
<ellipse cx="357.5" cy="237.5" rx="1.10" ry="1.10" fill="#40e040" fill-opacity="0.85"/>
<ellipse cx="350.5" cy="237.5" rx="1.20" ry="1.10" fill="#f0e040" fill-opacity="0.85"/>
<ellipse cx="354.0" cy="239.5" rx="1.10" ry="1.00" fill="#c01818" fill-opacity="0.70"/>
<ellipse cx="358.5" cy="240.5" rx="1.00" ry="1.00" fill="#c01818" fill-opacity="0.60"/>
<ellipse cx="346.5" cy="237.0" rx="1.00" ry="1.00" fill="#ff8030" fill-opacity="0.70"/>
<ellipse cx="374.5" cy="248.3" rx="1.60" ry="1.10" fill="#ee2222" fill-opacity="1.00"/>
<ellipse cx="378.0" cy="248.3" rx="1.60" ry="1.10" fill="#ee2222" fill-opacity="1.00"/>
<ellipse cx="321.0" cy="273.0" rx="0.80" ry="0.80" fill="#a0a0a0" fill-opacity="0.40"/>
<ellipse cx="351.7" cy="268.5" rx="0.80" ry="0.80" fill="#b8e040" fill-opacity="0.82"/>
<ellipse cx="339.7" cy="257.5" rx="0.70" ry="0.70" fill="#f0e040" fill-opacity="0.72"/>
<ellipse cx="334.0" cy="248.5" rx="0.69" ry="0.69" fill="#f0e040" fill-opacity="0.73"/>
<ellipse cx="345.1" cy="259.0" rx="0.84" ry="0.84" fill="#f0e040" fill-opacity="0.72"/>
<ellipse cx="333.9" cy="254.5" rx="0.76" ry="0.76" fill="#40e040" fill-opacity="0.88"/>
<ellipse cx="342.2" cy="247.2" rx="0.72" ry="0.72" fill="#b8e040" fill-opacity="0.84"/>
<ellipse cx="337.2" cy="248.0" rx="0.79" ry="0.79" fill="#40e040" fill-opacity="0.84"/>
<ellipse cx="349.0" cy="258.5" rx="0.65" ry="0.65" fill="#40e040" fill-opacity="0.74"/>
<ellipse cx="344.3" cy="244.8" rx="0.73" ry="0.73" fill="#f0e040" fill-opacity="0.91"/>
<ellipse cx="335.6" cy="254.3" rx="0.64" ry="0.64" fill="#f0e040" fill-opacity="0.86"/>
<ellipse cx="351.7" cy="253.2" rx="0.66" ry="0.66" fill="#f0e040" fill-opacity="0.94"/>
<ellipse cx="352.9" cy="264.7" rx="0.66" ry="0.66" fill="#b8e040" fill-opacity="0.81"/>
<ellipse cx="336.2" cy="251.3" rx="0.77" ry="0.77" fill="#40e040" fill-opacity="0.83"/>
<ellipse cx="357.1" cy="254.2" rx="0.66" ry="0.66" fill="#f0e040" fill-opacity="0.84"/>
<ellipse cx="338.0" cy="257.5" rx="0.85" ry="0.85" fill="#f0e040" fill-opacity="0.84"/>
<ellipse cx="347.7" cy="266.4" rx="0.62" ry="0.62" fill="#f0e040" fill-opacity="0.97"/>
<ellipse cx="351.8" cy="265.0" rx="0.72" ry="0.72" fill="#f0e040" fill-opacity="0.83"/>
<ellipse cx="347.2" cy="246.4" rx="0.84" ry="0.84" fill="#b8e040" fill-opacity="0.84"/>
<ellipse cx="350.5" cy="246.4" rx="0.64" ry="0.64" fill="#f0e040" fill-opacity="0.71"/>
<ellipse cx="345.8" cy="257.0" rx="0.76" ry="0.76" fill="#b8e040" fill-opacity="0.90"/>
<ellipse cx="338.4" cy="259.4" rx="0.63" ry="0.63" fill="#f0e040" fill-opacity="0.94"/>
<ellipse cx="350.0" cy="246.9" rx="0.79" ry="0.79" fill="#f0e040" fill-opacity="0.83"/>
<ellipse cx="354.5" cy="267.1" rx="0.65" ry="0.65" fill="#40e040" fill-opacity="0.76"/>
<ellipse cx="343.0" cy="265.4" rx="0.68" ry="0.68" fill="#b8e040" fill-opacity="0.95"/>
<ellipse cx="355.3" cy="262.5" rx="0.80" ry="0.80" fill="#b8e040" fill-opacity="0.95"/>
<ellipse cx="332.2" cy="258.3" rx="0.82" ry="0.82" fill="#f0e040" fill-opacity="0.88"/>
<ellipse cx="351.6" cy="248.2" rx="0.64" ry="0.64" fill="#f0e040" fill-opacity="0.87"/>
<ellipse cx="337.6" cy="258.5" rx="0.74" ry="0.74" fill="#f0e040" fill-opacity="0.96"/>
<ellipse cx="341.5" cy="244.8" rx="0.82" ry="0.82" fill="#f0e040" fill-opacity="0.83"/>
<ellipse cx="346.5" cy="258.2" rx="0.73" ry="0.73" fill="#40e040" fill-opacity="0.84"/>
<ellipse cx="344.0" cy="257.4" rx="0.84" ry="0.84" fill="#40e040" fill-opacity="0.98"/>
<ellipse cx="355.2" cy="249.7" rx="0.71" ry="0.71" fill="#b8e040" fill-opacity="0.74"/>
<ellipse cx="341.2" cy="246.0" rx="0.66" ry="0.66" fill="#f0e040" fill-opacity="0.76"/>
<ellipse cx="336.9" cy="247.4" rx="0.79" ry="0.79" fill="#40e040" fill-opacity="0.74"/>
<ellipse cx="339.8" cy="257.6" rx="0.85" ry="0.85" fill="#f0e040" fill-opacity="0.75"/>
<ellipse cx="340.9" cy="258.4" rx="0.68" ry="0.68" fill="#f0e040" fill-opacity="0.81"/>
<ellipse cx="330.4" cy="254.2" rx="0.68" ry="0.68" fill="#b8e040" fill-opacity="0.83"/>
<ellipse cx="346.8" cy="258.3" rx="0.62" ry="0.62" fill="#f0e040" fill-opacity="0.99"/>
<ellipse cx="330.7" cy="251.4" rx="0.61" ry="0.61" fill="#f0e040" fill-opacity="0.78"/>
<ellipse cx="331.5" cy="255.8" rx="0.83" ry="0.83" fill="#40e040" fill-opacity="0.82"/>
<ellipse cx="344.1" cy="258.4" rx="0.72" ry="0.72" fill="#40e040" fill-opacity="0.73"/>
<ellipse cx="329.3" cy="263.3" rx="0.71" ry="0.71" fill="#f0e040" fill-opacity="0.78"/>
<ellipse cx="335.6" cy="261.0" rx="0.66" ry="0.66" fill="#40e040" fill-opacity="0.96"/>
<ellipse cx="341.6" cy="253.5" rx="0.74" ry="0.74" fill="#40e040" fill-opacity="0.89"/>
<ellipse cx="335.6" cy="249.1" rx="0.83" ry="0.83" fill="#40e040" fill-opacity="0.86"/>
<ellipse cx="333.9" cy="256.5" rx="0.77" ry="0.77" fill="#40e040" fill-opacity="0.80"/>
<ellipse cx="344.6" cy="249.3" rx="0.72" ry="0.72" fill="#b8e040" fill-opacity="0.73"/>
<ellipse cx="352.9" cy="256.1" rx="0.72" ry="0.72" fill="#b8e040" fill-opacity="0.99"/>
<ellipse cx="337.0" cy="250.0" rx="0.66" ry="0.66" fill="#f0e040" fill-opacity="0.95"/>
<ellipse cx="349.4" cy="261.8" rx="0.70" ry="0.70" fill="#40e040" fill-opacity="0.99"/>
<ellipse cx="346.9" cy="268.6" rx="0.71" ry="0.71" fill="#f0e040" fill-opacity="0.73"/>
<ellipse cx="348.3" cy="251.9" rx="0.66" ry="0.66" fill="#40e040" fill-opacity="0.71"/>
<ellipse cx="333.2" cy="251.5" rx="0.60" ry="0.60" fill="#40e040" fill-opacity="0.99"/>
<ellipse cx="357.7" cy="259.3" rx="0.66" ry="0.66" fill="#40e040" fill-opacity="0.77"/>
<ellipse cx="333.2" cy="253.4" rx="0.62" ry="0.62" fill="#40e040" fill-opacity="0.85"/>
<ellipse cx="333.7" cy="258.1" rx="0.60" ry="0.60" fill="#40e040" fill-opacity="0.95"/>
<ellipse cx="332.0" cy="260.4" rx="0.70" ry="0.70" fill="#40e040" fill-opacity="0.79"/>
<ellipse cx="334.7" cy="260.4" rx="0.73" ry="0.73" fill="#f0e040" fill-opacity="0.90"/>
<ellipse cx="349.7" cy="268.6" rx="0.70" ry="0.70" fill="#40e040" fill-opacity="0.92"/>
<ellipse cx="342.8" cy="252.0" rx="0.75" ry="0.75" fill="#f0e040" fill-opacity="0.71"/>
</g></g>
<g clip-path="url(#c2)">
<g filter="url(#bh)">
<ellipse cx="277" cy="351" rx="12" ry="9" fill="#701010" fill-opacity="0.20"/>
<ellipse cx="255" cy="355" rx="6" ry="3" fill="#701010" fill-opacity="0.14"/>
<ellipse cx="286" cy="362" rx="6" ry="6" fill="#701010" fill-opacity="0.11"/>
</g><g filter="url(#bs)" fill="none" stroke-linecap="round" stroke-linejoin="round">
</g><g filter="url(#bd)">
<ellipse cx="269.0" cy="345.8" rx="1.60" ry="1.40" fill="#c01818" fill-opacity="0.85"/>
<ellipse cx="272.5" cy="347.5" rx="1.40" ry="1.40" fill="#c01818" fill-opacity="0.80"/>
<ellipse cx="277.7" cy="349.3" rx="1.80" ry="1.60" fill="#ff8030" fill-opacity="0.90"/>
<ellipse cx="280.5" cy="351.5" rx="1.60" ry="1.50" fill="#ee2222" fill-opacity="0.90"/>
<ellipse cx="282.9" cy="349.0" rx="1.50" ry="1.80" fill="#f0e040" fill-opacity="0.95"/>
<ellipse cx="285.0" cy="352.0" rx="1.30" ry="1.20" fill="#c01818" fill-opacity="0.80"/>
<ellipse cx="274.2" cy="358.0" rx="1.60" ry="1.40" fill="#ee2222" fill-opacity="0.85"/>
<ellipse cx="267.2" cy="353.7" rx="1.40" ry="1.20" fill="#c01818" fill-opacity="0.80"/>
<ellipse cx="271.0" cy="354.0" rx="1.30" ry="1.20" fill="#c01818" fill-opacity="0.80"/>
<ellipse cx="277.0" cy="355.0" rx="1.40" ry="1.30" fill="#ee2222" fill-opacity="0.85"/>
<ellipse cx="280.5" cy="357.5" rx="1.30" ry="1.20" fill="#c01818" fill-opacity="0.70"/>
<ellipse cx="286.5" cy="357.5" rx="1.20" ry="1.20" fill="#c01818" fill-opacity="0.60"/>
<ellipse cx="264.5" cy="350.0" rx="1.10" ry="1.10" fill="#c01818" fill-opacity="0.60"/>
<ellipse cx="274.2" cy="331.9" rx="0.90" ry="0.90" fill="#40e040" fill-opacity="0.50"/>
<ellipse cx="291.6" cy="331.0" rx="1.00" ry="1.00" fill="#40e040" fill-opacity="0.45"/>
<ellipse cx="262.0" cy="354.5" rx="0.90" ry="0.90" fill="#40e040" fill-opacity="0.45"/>
<ellipse cx="261.1" cy="358.0" rx="0.80" ry="0.80" fill="#40e040" fill-opacity="0.40"/>
<ellipse cx="249.8" cy="355.4" rx="1.20" ry="1.00" fill="#701010" fill-opacity="0.70"/>
<ellipse cx="252.4" cy="356.3" rx="1.20" ry="1.00" fill="#701010" fill-opacity="0.70"/>
<ellipse cx="291.6" cy="358.0" rx="1.10" ry="1.10" fill="#f0e040" fill-opacity="0.50"/>
<ellipse cx="281.1" cy="368.4" rx="1.30" ry="1.30" fill="#701010" fill-opacity="0.60"/>
<ellipse cx="293.3" cy="345.8" rx="1.10" ry="1.10" fill="#701010" fill-opacity="0.60"/>
<ellipse cx="288.0" cy="341.0" rx="1.20" ry="1.20" fill="#701010" fill-opacity="0.60"/>
<ellipse cx="270.0" cy="340.0" rx="1.20" ry="1.20" fill="#701010" fill-opacity="0.50"/>
<ellipse cx="283.0" cy="337.0" rx="1.00" ry="1.00" fill="#701010" fill-opacity="0.50"/>
<ellipse cx="276.0" cy="363.0" rx="1.20" ry="1.20" fill="#701010" fill-opacity="0.60"/>
<ellipse cx="281.3" cy="355.1" rx="0.74" ry="0.74" fill="#701010" fill-opacity="0.76"/>
<ellipse cx="284.6" cy="351.5" rx="0.74" ry="0.74" fill="#c01818" fill-opacity="0.73"/>
<ellipse cx="280.2" cy="358.6" rx="0.70" ry="0.70" fill="#701010" fill-opacity="0.43"/>
<ellipse cx="266.1" cy="353.0" rx="0.79" ry="0.79" fill="#f0e040" fill-opacity="0.73"/>
<ellipse cx="279.5" cy="352.8" rx="0.69" ry="0.69" fill="#701010" fill-opacity="0.60"/>
<ellipse cx="284.5" cy="350.1" rx="0.66" ry="0.66" fill="#c01818" fill-opacity="0.70"/>
<ellipse cx="277.3" cy="356.8" rx="0.75" ry="0.75" fill="#701010" fill-opacity="0.69"/>
<ellipse cx="270.3" cy="355.3" rx="0.79" ry="0.79" fill="#f0e040" fill-opacity="0.74"/>
<ellipse cx="281.5" cy="343.4" rx="0.68" ry="0.68" fill="#40e040" fill-opacity="0.50"/>
<ellipse cx="284.3" cy="345.7" rx="0.67" ry="0.67" fill="#c01818" fill-opacity="0.59"/>
<ellipse cx="277.6" cy="360.4" rx="0.53" ry="0.53" fill="#701010" fill-opacity="0.67"/>
<ellipse cx="272.6" cy="350.4" rx="0.64" ry="0.64" fill="#f0e040" fill-opacity="0.71"/>
<ellipse cx="290.8" cy="351.1" rx="0.59" ry="0.59" fill="#c01818" fill-opacity="0.77"/>
<ellipse cx="265.5" cy="349.1" rx="0.75" ry="0.75" fill="#f0e040" fill-opacity="0.80"/>
</g></g>
<g clip-path="url(#c3)">
<g filter="url(#bh)">
<ellipse cx="357" cy="348" rx="15" ry="15" fill="#701010" fill-opacity="0.20"/>
<ellipse cx="350" cy="347" rx="6" ry="6" fill="#a0a020" fill-opacity="0.23"/>
<ellipse cx="370" cy="377" rx="8" ry="4" fill="#701010" fill-opacity="0.16"/>
<ellipse cx="345" cy="372" rx="14" ry="8" fill="#701010" fill-opacity="0.14"/>
<ellipse cx="316" cy="381" rx="2.5" ry="5" fill="#701010" fill-opacity="0.23"/>
</g><g filter="url(#bs)" fill="none" stroke-linecap="round" stroke-linejoin="round">
<polyline points="340.5,334.0 346.5,331.0 351.5,334.0 356.5,337.2 361.0,335.5 365.5,336.8 367.5,343.0 369.0,350.5 366.5,355.0 361.0,361.5 354.5,362.0 349.5,359.0" stroke="#c01818" stroke-width="2.98" stroke-opacity="0.39"/>
</g><g filter="url(#bd)">
<ellipse cx="346.6" cy="331.2" rx="1.60" ry="1.40" fill="#ee2222" fill-opacity="0.85"/>
<ellipse cx="341.3" cy="333.9" rx="1.40" ry="1.20" fill="#c01818" fill-opacity="0.80"/>
<ellipse cx="356.4" cy="337.4" rx="1.60" ry="1.40" fill="#ee2222" fill-opacity="0.85"/>
<ellipse cx="365.4" cy="336.5" rx="1.50" ry="1.30" fill="#ee2222" fill-opacity="0.85"/>
<ellipse cx="367.1" cy="342.8" rx="1.50" ry="1.40" fill="#ee2222" fill-opacity="0.85"/>
<ellipse cx="368.9" cy="350.8" rx="1.50" ry="1.40" fill="#ee2222" fill-opacity="0.85"/>
<ellipse cx="360.9" cy="361.5" rx="1.50" ry="1.30" fill="#ee2222" fill-opacity="0.85"/>
<ellipse cx="354.6" cy="361.5" rx="1.50" ry="1.30" fill="#ee2222" fill-opacity="0.85"/>
<ellipse cx="360.9" cy="343.7" rx="1.30" ry="1.20" fill="#c01818" fill-opacity="0.75"/>
<ellipse cx="358.2" cy="349.9" rx="1.20" ry="1.10" fill="#c01818" fill-opacity="0.70"/>
<ellipse cx="363.5" cy="357.5" rx="1.20" ry="1.10" fill="#c01818" fill-opacity="0.75"/>
<ellipse cx="363.0" cy="348.0" rx="1.20" ry="1.10" fill="#c01818" fill-opacity="0.70"/>
<ellipse cx="352.0" cy="340.0" rx="1.10" ry="1.00" fill="#c01818" fill-opacity="0.60"/>
<ellipse cx="346.6" cy="346.4" rx="1.40" ry="1.20" fill="#f0e040" fill-opacity="0.95"/>
<ellipse cx="344.0" cy="344.0" rx="1.10" ry="1.00" fill="#ff8030" fill-opacity="0.90"/>
<ellipse cx="349.5" cy="343.0" rx="1.00" ry="0.90" fill="#f0e040" fill-opacity="0.90"/>
<ellipse cx="352.9" cy="349.9" rx="1.20" ry="1.10" fill="#40e040" fill-opacity="0.90"/>
<ellipse cx="348.5" cy="350.5" rx="1.10" ry="1.00" fill="#f0e040" fill-opacity="0.90"/>
<ellipse cx="366.5" cy="376.0" rx="1.40" ry="1.20" fill="#701010" fill-opacity="0.80"/>
<ellipse cx="371.0" cy="378.0" rx="1.40" ry="1.20" fill="#701010" fill-opacity="0.80"/>
<ellipse cx="375.0" cy="376.5" rx="1.20" ry="1.10" fill="#701010" fill-opacity="0.70"/>
<ellipse cx="316.3" cy="379.5" rx="1.30" ry="1.80" fill="#701010" fill-opacity="0.80"/>
<ellipse cx="316.3" cy="384.0" rx="1.20" ry="1.60" fill="#701010" fill-opacity="0.80"/>
<ellipse cx="359.6" cy="332.2" rx="1.27" ry="1.05" fill="#ee2222" fill-opacity="0.56"/>
<ellipse cx="369.1" cy="337.7" rx="0.95" ry="1.00" fill="#c01818" fill-opacity="0.85"/>
<ellipse cx="366.7" cy="350.2" rx="1.26" ry="1.19" fill="#ee2222" fill-opacity="0.56"/>
<ellipse cx="355.9" cy="360.5" rx="1.06" ry="1.08" fill="#701010" fill-opacity="0.64"/>
<ellipse cx="354.0" cy="332.8" rx="0.90" ry="0.92" fill="#701010" fill-opacity="0.55"/>
<ellipse cx="357.7" cy="360.8" rx="1.26" ry="1.12" fill="#c01818" fill-opacity="0.53"/>
<ellipse cx="359.8" cy="332.5" rx="0.93" ry="1.00" fill="#c01818" fill-opacity="0.84"/>
<ellipse cx="353.7" cy="339.1" rx="1.16" ry="1.15" fill="#c01818" fill-opacity="0.60"/>
<ellipse cx="351.2" cy="336.0" rx="0.98" ry="0.89" fill="#701010" fill-opacity="0.85"/>
<ellipse cx="365.2" cy="357.4" rx="1.27" ry="1.37" fill="#c01818" fill-opacity="0.79"/>
<ellipse cx="343.2" cy="348.1" rx="1.08" ry="1.11" fill="#c01818" fill-opacity="0.69"/>
<ellipse cx="358.6" cy="359.6" rx="0.97" ry="0.90" fill="#c01818" fill-opacity="0.62"/>
<ellipse cx="370.4" cy="354.5" rx="1.00" ry="1.00" fill="#c01818" fill-opacity="0.69"/>
<ellipse cx="366.1" cy="348.2" rx="1.16" ry="0.95" fill="#701010" fill-opacity="0.72"/>
<ellipse cx="362.6" cy="337.4" rx="1.20" ry="1.12" fill="#c01818" fill-opacity="0.60"/>
<ellipse cx="346.5" cy="339.9" rx="1.03" ry="0.94" fill="#c01818" fill-opacity="0.85"/>
<ellipse cx="366.9" cy="353.3" rx="1.07" ry="1.02" fill="#701010" fill-opacity="0.61"/>
<ellipse cx="367.3" cy="353.7" rx="1.13" ry="1.03" fill="#c01818" fill-opacity="0.54"/>
<ellipse cx="359.4" cy="358.2" rx="1.16" ry="1.08" fill="#c01818" fill-opacity="0.84"/>
<ellipse cx="359.7" cy="354.8" rx="0.91" ry="0.92" fill="#701010" fill-opacity="0.89"/>
<ellipse cx="362.8" cy="340.5" rx="1.27" ry="1.37" fill="#701010" fill-opacity="0.89"/>
<ellipse cx="352.0" cy="339.3" rx="0.96" ry="0.92" fill="#ee2222" fill-opacity="0.88"/>
<ellipse cx="369.2" cy="352.4" rx="1.21" ry="1.13" fill="#ee2222" fill-opacity="0.50"/>
<ellipse cx="344.9" cy="342.8" rx="0.92" ry="0.93" fill="#c01818" fill-opacity="0.75"/>
<ellipse cx="366.6" cy="340.0" rx="1.21" ry="1.00" fill="#c01818" fill-opacity="0.71"/>
<ellipse cx="367.9" cy="343.2" rx="0.99" ry="0.97" fill="#ee2222" fill-opacity="0.71"/>
<ellipse cx="353.6" cy="357.1" rx="1.03" ry="1.08" fill="#c01818" fill-opacity="0.69"/>
<ellipse cx="350.7" cy="338.7" rx="1.28" ry="1.30" fill="#c01818" fill-opacity="0.52"/>
<ellipse cx="345.7" cy="337.4" rx="1.16" ry="0.96" fill="#c01818" fill-opacity="0.77"/>
<ellipse cx="357.6" cy="357.2" rx="0.91" ry="0.82" fill="#701010" fill-opacity="0.64"/>
<ellipse cx="358.8" cy="339.1" rx="1.02" ry="1.07" fill="#ee2222" fill-opacity="0.58"/>
<ellipse cx="355.0" cy="357.7" rx="1.23" ry="1.07" fill="#c01818" fill-opacity="0.61"/>
<ellipse cx="359.3" cy="355.8" rx="1.15" ry="1.13" fill="#c01818" fill-opacity="0.69"/>
<ellipse cx="358.2" cy="355.5" rx="1.14" ry="1.23" fill="#ee2222" fill-opacity="0.59"/>
<ellipse cx="355.0" cy="356.2" rx="0.92" ry="0.75" fill="#701010" fill-opacity="0.68"/>
<ellipse cx="367.2" cy="350.9" rx="0.95" ry="0.78" fill="#c01818" fill-opacity="0.63"/>
<ellipse cx="345.0" cy="337.8" rx="1.20" ry="0.97" fill="#701010" fill-opacity="0.84"/>
<ellipse cx="353.8" cy="358.5" rx="0.94" ry="0.78" fill="#ee2222" fill-opacity="0.64"/>
<ellipse cx="356.0" cy="356.2" rx="1.29" ry="1.11" fill="#c01818" fill-opacity="0.81"/>
<ellipse cx="353.5" cy="333.1" rx="0.94" ry="0.95" fill="#c01818" fill-opacity="0.65"/>
<ellipse cx="357.9" cy="356.9" rx="1.05" ry="1.12" fill="#ee2222" fill-opacity="0.75"/>
<ellipse cx="349.8" cy="335.9" rx="1.06" ry="0.97" fill="#701010" fill-opacity="0.53"/>
<ellipse cx="357.9" cy="357.4" rx="1.20" ry="1.28" fill="#c01818" fill-opacity="0.65"/>
<ellipse cx="355.4" cy="331.9" rx="0.92" ry="0.94" fill="#c01818" fill-opacity="0.87"/>
<ellipse cx="352.8" cy="333.8" rx="1.14" ry="1.19" fill="#ee2222" fill-opacity="0.51"/>
<ellipse cx="346.2" cy="347.2" rx="0.79" ry="0.79" fill="#b8e040" fill-opacity="0.94"/>
<ellipse cx="344.6" cy="347.5" rx="0.50" ry="0.50" fill="#40e040" fill-opacity="0.95"/>
<ellipse cx="354.9" cy="349.0" rx="0.60" ry="0.60" fill="#40e040" fill-opacity="0.84"/>
<ellipse cx="355.0" cy="348.8" rx="0.65" ry="0.65" fill="#b8e040" fill-opacity="0.93"/>
<ellipse cx="343.0" cy="348.2" rx="0.60" ry="0.60" fill="#b8e040" fill-opacity="0.97"/>
<ellipse cx="350.5" cy="350.4" rx="0.63" ry="0.63" fill="#40e040" fill-opacity="0.74"/>
<ellipse cx="349.9" cy="353.0" rx="0.57" ry="0.57" fill="#ff8030" fill-opacity="0.95"/>
<ellipse cx="353.1" cy="342.2" rx="0.75" ry="0.75" fill="#40e040" fill-opacity="0.78"/>
<ellipse cx="346.8" cy="344.1" rx="0.58" ry="0.58" fill="#b8e040" fill-opacity="0.77"/>
<ellipse cx="346.4" cy="342.6" rx="0.77" ry="0.77" fill="#ff8030" fill-opacity="0.76"/>
<ellipse cx="346.4" cy="347.9" rx="0.69" ry="0.69" fill="#f0e040" fill-opacity="0.90"/>
<ellipse cx="350.1" cy="352.0" rx="0.75" ry="0.75" fill="#40e040" fill-opacity="0.71"/>
<ellipse cx="347.2" cy="342.2" rx="0.56" ry="0.56" fill="#ff8030" fill-opacity="0.76"/>
<ellipse cx="343.7" cy="347.7" rx="0.55" ry="0.55" fill="#ff8030" fill-opacity="0.78"/>
<ellipse cx="344.2" cy="348.8" rx="0.69" ry="0.69" fill="#40e040" fill-opacity="0.71"/>
<ellipse cx="347.9" cy="341.1" rx="0.80" ry="0.80" fill="#f0e040" fill-opacity="0.88"/>
<ellipse cx="352.9" cy="343.3" rx="0.50" ry="0.50" fill="#40e040" fill-opacity="0.82"/>
<ellipse cx="348.4" cy="349.2" rx="0.52" ry="0.52" fill="#f0e040" fill-opacity="0.94"/>
<ellipse cx="351.3" cy="341.4" rx="0.53" ry="0.53" fill="#b8e040" fill-opacity="0.90"/>
<ellipse cx="345.0" cy="348.0" rx="0.70" ry="0.70" fill="#b8e040" fill-opacity="0.91"/>
<ellipse cx="349.1" cy="344.5" rx="0.59" ry="0.59" fill="#f0e040" fill-opacity="0.79"/>
<ellipse cx="351.6" cy="345.5" rx="0.62" ry="0.62" fill="#40e040" fill-opacity="0.89"/>
<ellipse cx="348.8" cy="346.2" rx="0.78" ry="0.78" fill="#b8e040" fill-opacity="0.97"/>
<ellipse cx="349.3" cy="352.0" rx="0.62" ry="0.62" fill="#40e040" fill-opacity="0.84"/>
<ellipse cx="351.3" cy="349.5" rx="0.77" ry="0.77" fill="#f0e040" fill-opacity="0.87"/>
<ellipse cx="357.3" cy="350.8" rx="0.55" ry="0.55" fill="#40e040" fill-opacity="0.78"/>
<ellipse cx="350.8" cy="353.5" rx="0.53" ry="0.53" fill="#b8e040" fill-opacity="0.93"/>
<ellipse cx="355.2" cy="351.8" rx="0.59" ry="0.59" fill="#f0e040" fill-opacity="0.99"/>
<ellipse cx="350.2" cy="341.2" rx="0.78" ry="0.78" fill="#b8e040" fill-opacity="0.73"/>
<ellipse cx="353.9" cy="350.1" rx="0.77" ry="0.77" fill="#40e040" fill-opacity="0.89"/>
<ellipse cx="352.3" cy="343.2" rx="0.64" ry="0.64" fill="#ff8030" fill-opacity="0.77"/>
<ellipse cx="348.9" cy="347.8" rx="0.62" ry="0.62" fill="#f0e040" fill-opacity="0.74"/>
<ellipse cx="345.6" cy="352.9" rx="0.75" ry="0.75" fill="#f0e040" fill-opacity="0.90"/>
<ellipse cx="347.7" cy="346.0" rx="0.64" ry="0.64" fill="#40e040" fill-opacity="0.89"/>
<ellipse cx="347.4" cy="344.0" rx="0.62" ry="0.62" fill="#40e040" fill-opacity="0.83"/>
<ellipse cx="349.5" cy="340.8" rx="0.69" ry="0.69" fill="#b8e040" fill-opacity="0.84"/>
<ellipse cx="349.6" cy="349.2" rx="0.75" ry="0.75" fill="#40e040" fill-opacity="0.94"/>
<ellipse cx="348.9" cy="341.4" rx="0.61" ry="0.61" fill="#40e040" fill-opacity="0.73"/>
<ellipse cx="349.6" cy="347.6" rx="0.51" ry="0.51" fill="#40e040" fill-opacity="0.72"/>
<ellipse cx="354.2" cy="351.4" rx="0.65" ry="0.65" fill="#f0e040" fill-opacity="0.93"/>
<ellipse cx="356.8" cy="349.6" rx="0.74" ry="0.74" fill="#f0e040" fill-opacity="0.96"/>
<ellipse cx="355.5" cy="343.2" rx="0.79" ry="0.79" fill="#b8e040" fill-opacity="0.79"/>
<ellipse cx="355.5" cy="351.6" rx="0.71" ry="0.71" fill="#40e040" fill-opacity="0.72"/>
<ellipse cx="348.1" cy="351.1" rx="0.55" ry="0.55" fill="#ff8030" fill-opacity="0.78"/>
<ellipse cx="355.6" cy="342.5" rx="0.65" ry="0.65" fill="#b8e040" fill-opacity="0.76"/>
<ellipse cx="335.5" cy="370.1" rx="0.83" ry="0.83" fill="#701010" fill-opacity="0.36"/>
<ellipse cx="341.1" cy="373.0" rx="0.81" ry="0.81" fill="#c01818" fill-opacity="0.57"/>
<ellipse cx="331.7" cy="376.3" rx="0.75" ry="0.75" fill="#701010" fill-opacity="0.31"/>
<ellipse cx="343.1" cy="370.5" rx="0.98" ry="0.98" fill="#701010" fill-opacity="0.38"/>
<ellipse cx="346.4" cy="377.8" rx="1.00" ry="1.00" fill="#c01818" fill-opacity="0.38"/>
<ellipse cx="364.6" cy="371.7" rx="0.84" ry="0.84" fill="#701010" fill-opacity="0.43"/>
<ellipse cx="332.1" cy="375.4" rx="0.72" ry="0.72" fill="#701010" fill-opacity="0.38"/>
<ellipse cx="348.4" cy="373.6" rx="0.83" ry="0.83" fill="#701010" fill-opacity="0.52"/>
<ellipse cx="333.9" cy="365.4" rx="0.95" ry="0.95" fill="#c01818" fill-opacity="0.45"/>
<ellipse cx="334.1" cy="373.4" rx="0.71" ry="0.71" fill="#701010" fill-opacity="0.47"/>
<ellipse cx="337.1" cy="370.5" rx="0.91" ry="0.91" fill="#c01818" fill-opacity="0.48"/>
<ellipse cx="348.6" cy="363.5" rx="0.95" ry="0.95" fill="#c01818" fill-opacity="0.35"/>
<ellipse cx="353.3" cy="368.9" rx="0.73" ry="0.73" fill="#701010" fill-opacity="0.56"/>
<ellipse cx="356.3" cy="367.8" rx="0.81" ry="0.81" fill="#701010" fill-opacity="0.32"/>
<ellipse cx="348.8" cy="371.7" rx="0.94" ry="0.94" fill="#701010" fill-opacity="0.52"/>
<ellipse cx="334.9" cy="378.9" rx="0.72" ry="0.72" fill="#701010" fill-opacity="0.31"/>
<ellipse cx="332.4" cy="362.5" rx="1.06" ry="1.06" fill="#701010" fill-opacity="0.30"/>
<ellipse cx="347.0" cy="379.7" rx="0.76" ry="0.76" fill="#701010" fill-opacity="0.46"/>
<ellipse cx="350.7" cy="373.2" rx="0.87" ry="0.87" fill="#701010" fill-opacity="0.35"/>
<ellipse cx="337.4" cy="365.6" rx="0.72" ry="0.72" fill="#701010" fill-opacity="0.53"/>
<ellipse cx="358.8" cy="375.4" rx="0.89" ry="0.89" fill="#701010" fill-opacity="0.50"/>
<ellipse cx="335.5" cy="373.2" rx="0.75" ry="0.75" fill="#701010" fill-opacity="0.58"/>
</g></g>
<line x1="395.8" y1="223" x2="383.76392139812583" y2="237.72835934176712" stroke="#fff" stroke-width="0.8"/>
<polygon points="380.6,241.6 382.06,236.34 385.47,239.12" fill="#fff"/>
<line x1="318.5" y1="344.4" x2="337.93033344545927" y2="346.5500778812599" stroke="#fff" stroke-width="0.8"/>
<polygon points="342.9,347.1 337.69,348.74 338.17,344.36" fill="#fff"/>
<text transform="translate(413.07,190.32) scale(1.009,1)" font-size="17.30" font-weight="bold" fill="#000">F</text>
<line x1="457.7" y1="198" x2="457.7" y2="259.5" stroke="#aaa" stroke-width="0.9"/>
<line x1="457.7" y1="259.5" x2="511.9" y2="259.5" stroke="#aaa" stroke-width="0.9"/>
<text transform="translate(448.74,202.44) scale(1.000,1)" font-size="5.63" font-weight="normal" fill="#444" stroke="#444" stroke-width="0.280">50</text>
<line x1="455.6" y1="200.5" x2="457.7" y2="200.5" stroke="#aaa" stroke-width="0.6"/>
<text transform="translate(448.74,214.24) scale(1.000,1)" font-size="5.63" font-weight="normal" fill="#444" stroke="#444" stroke-width="0.280">40</text>
<line x1="455.6" y1="212.3" x2="457.7" y2="212.3" stroke="#aaa" stroke-width="0.6"/>
<text transform="translate(448.74,226.24) scale(1.000,1)" font-size="5.63" font-weight="normal" fill="#444" stroke="#444" stroke-width="0.280">30</text>
<line x1="455.6" y1="224.3" x2="457.7" y2="224.3" stroke="#aaa" stroke-width="0.6"/>
<text transform="translate(448.74,238.24) scale(1.000,1)" font-size="5.63" font-weight="normal" fill="#444" stroke="#444" stroke-width="0.280">20</text>
<line x1="455.6" y1="236.3" x2="457.7" y2="236.3" stroke="#aaa" stroke-width="0.6"/>
<text transform="translate(448.74,250.14) scale(1.000,1)" font-size="5.63" font-weight="normal" fill="#444" stroke="#444" stroke-width="0.280">10</text>
<line x1="455.6" y1="248.2" x2="457.7" y2="248.2" stroke="#aaa" stroke-width="0.6"/>
<text transform="translate(451.87,261.84) scale(1.000,1)" font-size="5.63" font-weight="normal" fill="#444" stroke="#444" stroke-width="0.280">0</text>
<line x1="455.6" y1="259.9" x2="457.7" y2="259.9" stroke="#aaa" stroke-width="0.6"/>
<line x1="475.4" y1="233.4" x2="475.4" y2="228" stroke="#222" stroke-width="0.9"/>
<line x1="474.0" y1="228" x2="476.79999999999995" y2="228" stroke="#222" stroke-width="0.9"/>
<rect x="467.45" y="233.85" width="15.9" height="25.65" fill="#fff" stroke="#333" stroke-width="0.9"/>
<line x1="495.45000000000005" y1="210.1" x2="495.45000000000005" y2="200.5" stroke="#222" stroke-width="0.9"/>
<line x1="494.05000000000007" y1="200.5" x2="496.85" y2="200.5" stroke="#222" stroke-width="0.9"/>
<rect x="487.75" y="210.54999999999998" width="15.4" height="48.95" fill="#666" stroke="#333" stroke-width="0.9"/>
<line x1="465.5" y1="196.2" x2="497.8" y2="196.2" stroke="#444" stroke-width="0.8"/>
<text transform="translate(470.60,195.33) scale(0.963,1)" font-size="6.76" font-weight="normal" font-style="italic" fill="#111" stroke="#111" stroke-width="0.280">P &lt; .05</text>
<text transform="translate(465.85,273.34) scale(1.059,1)" font-size="6.50" font-weight="bold" fill="#000" stroke="#000" stroke-width="0.150">DMSO</text>
<text transform="translate(493.30,273.34) scale(1.010,1)" font-size="6.50" font-weight="bold" fill="#000" stroke="#000" stroke-width="0.150">SB</text>
<line x1="467.7" y1="276.5" x2="502.3" y2="276.5" stroke="#555" stroke-width="0.8"/>
<text transform="translate(478.39,287.17) scale(1.291,1)" font-size="8.00" font-weight="bold" fill="#000" stroke="#000" stroke-width="0.150">+/+</text>
<text transform="translate(423.73,264.62) rotate(-90) scale(1.003,1)" font-size="7.90" font-weight="bold" fill="#000" stroke="#000" stroke-width="0.150">cells with multiple</text>
<text transform="translate(433.22,257.11) rotate(-90) scale(0.999,1)" font-size="7.90" font-weight="bold" fill="#000" stroke="#000" stroke-width="0.150">Protrusion and</text>
<text transform="translate(440.33,263.52) rotate(-90) scale(1.003,1)" font-size="7.90" font-weight="bold" fill="#000" stroke="#000" stroke-width="0.150">filopodia (percent)</text>
<text transform="translate(413.47,308.57) scale(1.062,1)" font-size="17.30" font-weight="bold" fill="#000">G</text>
<line x1="453.6" y1="320.4" x2="453.6" y2="382" stroke="#aaa" stroke-width="0.9"/>
<line x1="453.6" y1="382" x2="501.6" y2="382" stroke="#aaa" stroke-width="0.9"/>
<text transform="translate(444.64,324.74) scale(1.000,1)" font-size="5.92" font-weight="normal" fill="#444" stroke="#444" stroke-width="0.280">20</text>
<text transform="translate(444.67,336.64) scale(1.000,1)" font-size="5.92" font-weight="normal" fill="#444" stroke="#444" stroke-width="0.280">16</text>
<text transform="translate(444.64,348.60) scale(1.000,1)" font-size="6.00" font-weight="normal" fill="#444" stroke="#444" stroke-width="0.280">12</text>
<text transform="translate(447.95,360.64) scale(1.000,1)" font-size="5.92" font-weight="normal" fill="#444" stroke="#444" stroke-width="0.280">8</text>
<text transform="translate(447.80,372.70) scale(1.000,1)" font-size="6.09" font-weight="normal" fill="#444" stroke="#444" stroke-width="0.280">4</text>
<text transform="translate(447.92,384.44) scale(1.000,1)" font-size="5.92" font-weight="normal" fill="#444" stroke="#444" stroke-width="0.280">0</text>
<line x1="467.6" y1="366.3" x2="467.6" y2="361.2" stroke="#222" stroke-width="0.9"/>
<line x1="466.20000000000005" y1="361.2" x2="469.0" y2="361.2" stroke="#222" stroke-width="0.9"/>
<rect x="458.55" y="366.75" width="18.1" height="15.25" fill="#fff" stroke="#333" stroke-width="0.9"/>
<line x1="491.05" y1="338.2" x2="491.05" y2="325.9" stroke="#222" stroke-width="0.9"/>
<line x1="489.65000000000003" y1="325.9" x2="492.45" y2="325.9" stroke="#222" stroke-width="0.9"/>
<rect x="482.45" y="338.65" width="17.2" height="43.35" fill="#666" stroke="#333" stroke-width="0.9"/>
<line x1="461.1" y1="318.3" x2="493.6" y2="318.3" stroke="#444" stroke-width="0.8"/>
<text transform="translate(466.40,317.23) scale(1.005,1)" font-size="6.76" font-weight="normal" font-style="italic" fill="#111" stroke="#111" stroke-width="0.280">P &lt;.05</text>
<text transform="translate(455.65,395.82) scale(1.093,1)" font-size="6.30" font-weight="bold" fill="#000" stroke="#000" stroke-width="0.150">DMSO</text>
<text transform="translate(481.21,395.82) scale(1.019,1)" font-size="6.30" font-weight="bold" fill="#000" stroke="#000" stroke-width="0.150">U0126</text>
<line x1="456.1" y1="402.3" x2="498.4" y2="402.3" stroke="#555" stroke-width="0.8"/>
<text transform="translate(472.80,412.12) scale(1.111,1)" font-size="9.00" font-weight="normal" fill="#000" stroke="#000" stroke-width="0.280">–/–</text>
<text transform="translate(422.42,370.82) rotate(-90) scale(1.024,1)" font-size="7.90" font-weight="bold" fill="#000" stroke="#000" stroke-width="0.150">cells with</text>
<text transform="translate(430.33,380.94) rotate(-90) scale(1.043,1)" font-size="7.90" font-weight="bold" fill="#000" stroke="#000" stroke-width="0.150">podosome-like</text>
<text transform="translate(437.93,372.24) rotate(-90) scale(1.117,1)" font-size="7.90" font-weight="bold" fill="#000" stroke="#000" stroke-width="0.150">(percent)</text>
</svg>
</body></html>
